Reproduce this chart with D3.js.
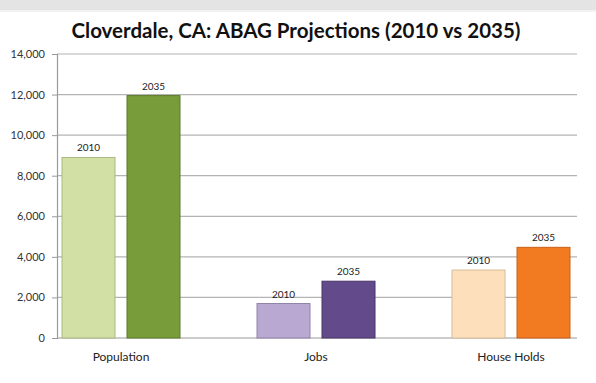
<!DOCTYPE html>
<html><head><meta charset="utf-8">
<script src="https://cdn.jsdelivr.net/npm/d3@7"></script>
<style>
html,body{margin:0;padding:0;background:#fff;}
svg{display:block;}
</style></head>
<body>
<svg id="chart" width="596" height="383"></svg>
<script>
const categories = ["Population", "Jobs", "House Holds"];
const years = ["2010", "2035"];
const values2010 = [8900, 1700, 3350];
const values2035 = [11950, 2800, 4470];
const yTicks = [0, 2000, 4000, 6000, 8000, 10000, 12000, 14000];
const fills2010 = ["#d2e0a6", "#b9a8d1", "#fde0bb"];
const fills2035 = ["#789c3a", "#634a8a", "#f27a20"];
const strokes2010 = ["#a9b884", "#9283a8", "#d8bc98"];
const strokes2035 = ["#5d7a2a", "#4b3569", "#c9611a"];
const title = "Cloverdale, CA: ABAG Projections (2010 vs 2035)";

const svg = d3.select("#chart");
const font = "Lato, 'Open Sans', sans-serif";

// top gray band
svg.append("rect").attr("x",0).attr("y",0).attr("width",596).attr("height",10).attr("fill","#e4e4e4");
svg.append("rect").attr("x",0).attr("y",10).attr("width",596).attr("height",2).attr("fill","#f2f2f2");

const y = d3.scaleLinear().domain([0, 14000]).range([338, 54]);
const x = d3.scalePoint().domain(categories).range([121, 511]);
const xs = d3.scaleBand().domain(years).range([-59, 59]).paddingInner(0.1846).paddingOuter(0);

const plotLeft = 57, plotRight = 577;

// gridlines
svg.append("g").selectAll("line").data(yTicks.filter(d=>d>0)).join("line")
  .attr("x1", plotLeft).attr("x2", plotRight)
  .attr("y1", d=>y(d)).attr("y2", d=>y(d))
  .attr("stroke", "#b4b4b4").attr("stroke-width", 1.2);

// y axis
const yAxis = d3.axisLeft(y).tickValues(yTicks).tickSize(5).tickPadding(7)
  .tickFormat(d3.format(","));
const ga = svg.append("g").attr("transform", `translate(${plotLeft},0)`).call(yAxis);
ga.select(".domain").attr("stroke", "#9a9a9a").attr("stroke-width", 1.2);
ga.selectAll(".tick line").attr("stroke", "#9a9a9a");
ga.selectAll(".tick text").attr("font-family", font).attr("font-size", 11).attr("fill", "#333");

// baseline
svg.append("line").attr("x1", plotLeft).attr("x2", plotRight).attr("y1", y(0)).attr("y2", y(0))
  .attr("stroke", "#9a9a9a").attr("stroke-width", 1.2);

// bars
const bars = [];
categories.forEach((c,i)=>{
  bars.push({c, yr:"2010", v:values2010[i], fill:fills2010[i], stroke:strokes2010[i]});
  bars.push({c, yr:"2035", v:values2035[i], fill:fills2035[i], stroke:strokes2035[i]});
});
svg.append("g").selectAll("rect").data(bars).join("rect")
  .attr("x", d=>x(d.c)+xs(d.yr))
  .attr("width", xs.bandwidth())
  .attr("y", d=>y(d.v))
  .attr("height", d=>y(0)-y(d.v))
  .attr("fill", d=>d.fill)
  .attr("stroke", d=>d.stroke).attr("stroke-width", 1);

// value labels (years)
svg.append("g").selectAll("text").data(bars).join("text")
  .attr("x", d=>x(d.c)+xs(d.yr)+xs.bandwidth()/2)
  .attr("y", d=>y(d.v)-6)
  .attr("text-anchor","middle")
  .attr("font-family", font).attr("font-size", 10).attr("fill","#222")
  .text(d=>d.yr);

// category labels
svg.append("g").selectAll("text").data(categories).join("text")
  .attr("x", d=>x(d)).attr("y", 361)
  .attr("text-anchor","middle")
  .attr("font-family", font).attr("font-size", 12).attr("fill","#222")
  .text(d=>d);

// title
svg.append("text").attr("x", 296).attr("y", 38).attr("text-anchor","middle")
  .attr("font-family", font).attr("font-weight","bold").attr("font-size", 20.5).attr("fill","#111")
  .text(title);
</script>
</body></html>
